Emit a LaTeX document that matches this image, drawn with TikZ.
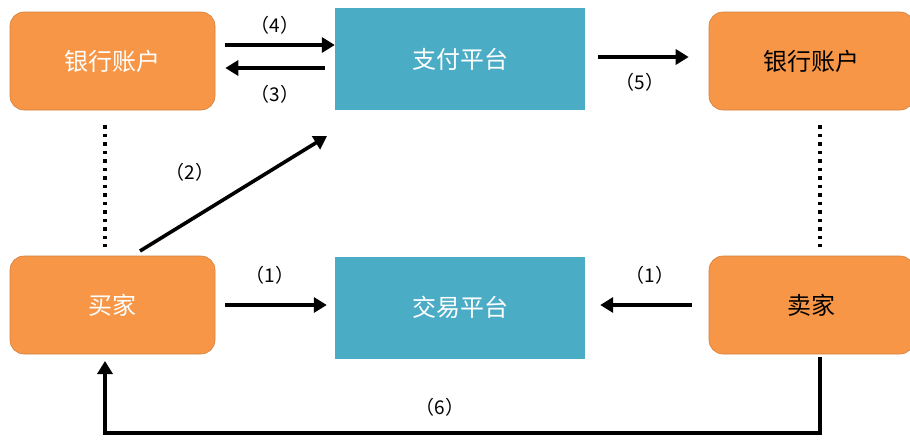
\documentclass[tikz,border=0pt]{standalone}
\usepackage{fontspec}
\setmainfont{Noto Sans CJK SC}
\usetikzlibrary{arrows.meta}
\definecolor{org}{HTML}{F79646}
\definecolor{blu}{HTML}{4BACC6}
\begin{document}
\begin{tikzpicture}[x=1pt,y=-1pt,
  obox/.style={draw=org!85!black, line width=0.6pt, fill=org, rounded corners=14pt, minimum width=205pt, minimum height=98pt, font=\fontsize{24}{28}\selectfont},
  bbox/.style={fill=blu, minimum width=250pt, minimum height=102pt, text=white, font=\fontsize{24}{28}\selectfont},
  conn/.style={line width=3.6pt, -{Triangle[length=13pt,width=15pt]}},
  lab/.style={font=\fontsize{19}{21}\selectfont}]
\useasboundingbox (0,0) rectangle (910,439);
\node[obox, text=white] (bank1) at (112.5,61) {银行账户};
\node[obox, text=black] (bank2) at (811.5,61) {银行账户};
\node[obox, text=white] (buyer) at (112.5,305) {买家};
\node[obox, text=black] (seller) at (811.5,305) {卖家};
\node[bbox] (pay) at (460,59) {支付平台};
\node[bbox] (trade) at (460,307.5) {交易平台};
% arrows
\draw[conn] ([xshift=10pt]bank1.east|-0,45) -- (pay.west|-0,45);
\node[lab] (l4) at (275,25) {（4）};
\draw[conn] ([xshift=-10pt]pay.west|-0,68) -- ([xshift=10pt]bank1.east|-0,68);
\node[lab] (l3) at (275,94) {（3）};
\draw[conn] ([xshift=13pt]pay.east|-0,57) -- ([xshift=-20pt]bank2.west|-0,57);
\node[lab] (l5) at (640,82) {（5）};
\coordinate (s2) at (140,251);
\coordinate (e2) at (327,136);
\draw[conn] (s2) -- (e2);
\node[lab] (l2) at (190,172) {（2）};
\draw[conn] ([xshift=10pt]buyer.east|-0,305) -- ([xshift=-8pt]trade.west|-0,305);
\node[lab] (l1a) at (270,275) {（1）};
\draw[conn] ([xshift=-17pt]seller.west|-0,305) -- ([xshift=15pt]trade.east|-0,305);
\node[lab] (l1b) at (650,275) {（1）};
\coordinate (s6) at (820,357);
\coordinate (c6a) at (820,433);
\coordinate (c6b) at (105,433);
\coordinate (e6) at (105,361);
\draw[conn, line join=miter] (s6) -- (c6a) -- (c6b) -- (e6);
\node[lab] (l6) at (440,407) {（6）};
% dotted
\draw[line width=3.5pt, dash pattern=on 3.5pt off 5pt] (105,125) -- (105,247);
\draw[line width=3.5pt, dash pattern=on 3.5pt off 5pt] (820,125) -- (820,247);
\end{tikzpicture}
\end{document}
